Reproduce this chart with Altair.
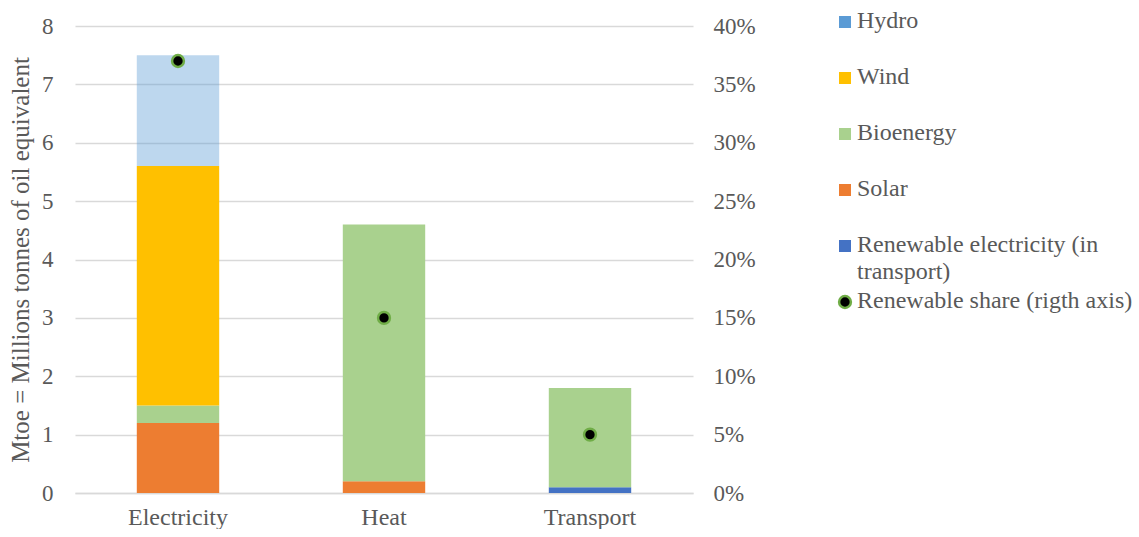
import altair as alt
import pandas as pd

categories = ["Electricity", "Heat", "Transport"]
sources = ["Renewable electricity (in transport)", "Solar", "Bioenergy", "Wind", "Hydro"]
colors = ["#4472C4", "#ED7D31", "#A9D18E", "#FFC000", "#5B9BD5"]

electricity = [0.0, 1.2, 0.3, 4.1, 1.9]
heat = [0.0, 0.2, 4.4, 0.0, 0.0]
transport = [0.1, 0.0, 1.7, 0.0, 0.0]

share = [0.37, 0.15, 0.05]

legend_labels = ["Hydro", "Wind", "Bioenergy", "Solar",
                 "Renewable electricity (in\ntransport)", "Renewable share (rigth axis)"]
legend_keys = ["Hydro", "Wind", "Bioenergy", "Solar",
               "Renewable electricity (in transport)", "Renewable share (rigth axis)"]

FONT = "Liberation Serif"
TXT = "#595959"

rows = []
for cat, vals in zip(categories, [electricity, heat, transport]):
    for i, (s, v) in enumerate(zip(sources, vals)):
        if v > 0:
            rows.append({"category": cat, "source": s, "value": v, "order": i,
                         "light": 0.4 if s == "Hydro" else 1.0})
bars_df = pd.DataFrame(rows)
share_df = pd.DataFrame({"category": categories, "share": share})

xenc = alt.X("category:N", sort=categories, title=None,
             scale=alt.Scale(paddingInner=0.6, paddingOuter=0.3),
             axis=alt.Axis(labelAngle=0, labelFont=FONT, labelFontSize=24, labelColor=TXT,
                           ticks=False, domainColor="#D9D9D9", domainWidth=1.5,
                           labelPadding=12))

bars = alt.Chart(bars_df).mark_bar().encode(
    x=xenc,
    y=alt.Y("value:Q", stack="zero", title="Mtoe = Millions tonnes of oil equivalent",
            scale=alt.Scale(domain=[0, 8]),
            axis=alt.Axis(values=list(range(0, 9)), labelFont=FONT, labelFontSize=23,
                          labelColor=TXT, titleFont=FONT, titleFontSize=25, titleColor=TXT,
                          titleFontWeight="normal", ticks=False, domain=False,
                          gridColor="#D9D9D9", gridWidth=1.5, labelPadding=22,
                          titlePadding=8)),
    color=alt.Color("source:N", scale=alt.Scale(domain=sources, range=colors), legend=None),
    opacity=alt.Opacity("light:Q", scale=None, legend=None),
    order=alt.Order("order:Q"),
)

points = alt.Chart(share_df).mark_point(
    filled=True, shape="circle", size=140, fill="black", stroke="#70AD47",
    strokeWidth=2.5, opacity=1
).encode(
    x=alt.X("category:N", sort=categories),
    y=alt.Y("share:Q", scale=alt.Scale(domain=[0, 0.4]),
            axis=alt.Axis(orient="right", format=".0%", values=[i * 0.05 for i in range(9)],
                          labelFont=FONT, labelFontSize=23, labelColor=TXT, ticks=False,
                          domain=False, grid=False, labelPadding=20, title=None)),
)

main = alt.layer(bars, points).resolve_scale(y="independent").properties(width=618, height=467)

leg_df = pd.DataFrame({"key": legend_keys, "label": legend_labels,
                       "kind": ["sq"] * 5 + ["pt"]})
yleg = alt.Y("key:N", sort=legend_keys, axis=None,
             scale=alt.Scale(type="point", range=[-4, 276], padding=0))

leg_sq = alt.Chart(leg_df).transform_filter("datum.kind == 'sq'").mark_square(
    size=144, opacity=1, filled=True
).encode(
    x=alt.value(19), y=yleg,
    color=alt.Color("key:N", scale=alt.Scale(domain=sources, range=colors), legend=None),
)
leg_pt = alt.Chart(leg_df).transform_filter("datum.kind == 'pt'").mark_point(
    filled=True, shape="circle", size=140, fill="black", stroke="#70AD47",
    strokeWidth=2.5, opacity=1
).encode(x=alt.value(19), y=yleg)
leg_txt = alt.Chart(leg_df).transform_calculate(
    lines="split(datum.label, '\\n')"
).mark_text(
    align="left", baseline="top", dy=-13, font=FONT, fontSize=24, color=TXT, lineHeight=27
).encode(x=alt.value(31), y=yleg, text="lines:N")

legend = alt.layer(leg_sq, leg_pt, leg_txt).resolve_scale(color="independent").properties(
    width=270, height=467)

chart = alt.hconcat(main, legend, spacing=70).properties(
    padding={"left": 8, "top": 9, "right": 0, "bottom": 0}
).configure_view(stroke=None)

chart.save("out.html", embed_options={"renderer": "svg", "actions": False})
